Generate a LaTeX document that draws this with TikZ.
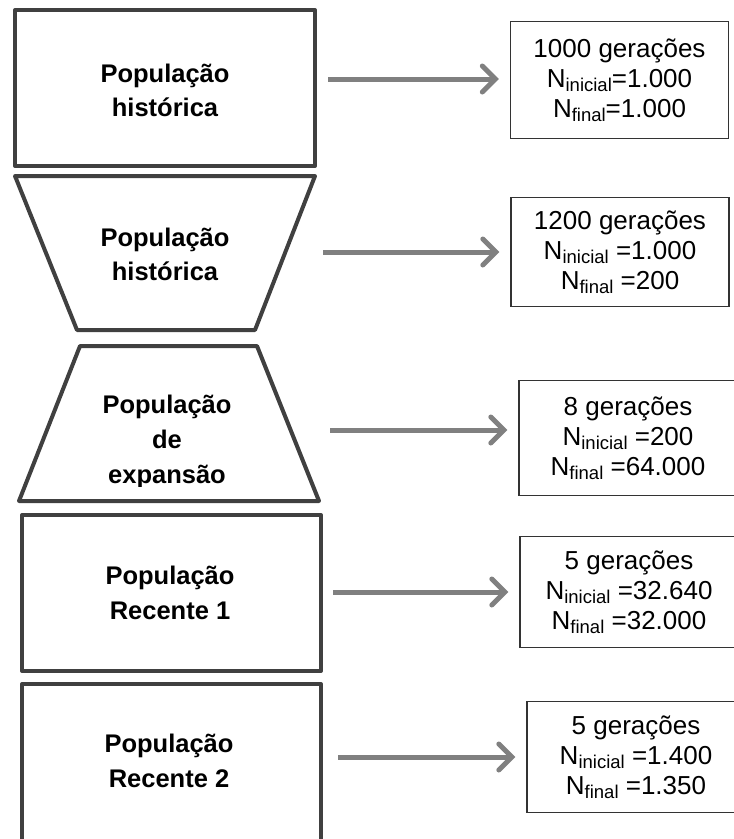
\documentclass[tikz,border=0pt]{standalone}
\usepackage{fontspec}
\setmainfont{Liberation Sans}
\usetikzlibrary{arrows.meta,positioning,calc}
\newcommand{\Nsub}[1]{N\raisebox{-0.3ex}{\fontsize{18.5}{18.5}\selectfont #1}}

\begin{document}
\begin{tikzpicture}[x=1pt, y=-1pt,
    pop_shape/.style={draw=black!75, line width=4pt, line join=round},
    pop_label/.style={font=\fontsize{25.5}{34}\selectfont\bfseries, align=center, inner sep=0pt},
    gen_box/.style={rectangle, draw=black!80, line width=1.3pt, align=center, font=\fontsize{26}{30}\selectfont, inner sep=0pt, minimum width=218pt},
    seta/.style={draw=black!50, line width=5pt, -{Straight Barb[length=13pt,width=26pt,line width=5pt,line cap=round]}, shorten >=11pt}
]
    \useasboundingbox (0,0) rectangle (734,839);
    \clip (0,0) rectangle (734,839);

    \draw[pop_shape] (15,10) rectangle (315,166);
    \draw[pop_shape] (15,176) -- (315,176) -- (255,330) -- (77,330) -- cycle;
    \draw[pop_shape] (80,346) -- (257,346) -- (319,501) -- (19,501) -- cycle;
    \draw[pop_shape] (22,515) rectangle (321,671);
    \draw[pop_shape] (22,860) -- (22,684) -- (321,684) -- (321,860);

    \node[pop_label] (pop1) at (165,90) {População\\histórica};
    \node[pop_label] (pop2) at (165,254) {População\\histórica};
    \begin{scope}
        \clip (0,340) rectangle (340,486);
        \node[pop_label, font=\fontsize{25.5}{35}\selectfont\bfseries] (pop3) at (167,442) {População\\de\\expansão};
    \end{scope}
    \node[pop_label, font=\fontsize{25.5}{35}\selectfont\bfseries] (pop4) at (170,592.5) {População\\Recente 1};
    \node[pop_label, font=\fontsize{25.5}{35}\selectfont\bfseries] (pop5) at (169,760.5) {População\\Recente 2};

    \node[gen_box, minimum height=117pt] (g1) at (619.5,80) {1000 gerações\\\Nsub{inicial}=1.000\\\Nsub{final}=1.000};
    \node[gen_box, minimum height=109pt] (g2) at (620,252) {1200 gerações\\\Nsub{inicial} =1.000\\\Nsub{final} =200};
    \node[gen_box, minimum height=115pt] (g3) at (628,438) {8 gerações\\\Nsub{inicial} =200\\\Nsub{final} =64.000};
    \node[gen_box, minimum height=111pt] (g4) at (629,592) {5 gerações\\\Nsub{inicial} =32.640\\\Nsub{final} =32.000};
    \node[gen_box, minimum height=111pt] (g5) at (636,757) {5 gerações\\\Nsub{inicial} =1.400\\\Nsub{final} =1.350};

    \coordinate (a1) at (328,79);
    \coordinate (a2) at (323,252);
    \coordinate (a3) at (330,430);
    \coordinate (a4) at (333,592);
    \coordinate (a5) at (338,757);

    \draw[seta] (a1) -- (a1 -| g1.west);
    \draw[seta] (a2) -- (a2 -| g2.west);
    \draw[seta] (a3) -- (a3 -| g3.west);
    \draw[seta] (a4) -- (a4 -| g4.west);
    \draw[seta] (a5) -- (a5 -| g5.west);
\end{tikzpicture}
\end{document}
